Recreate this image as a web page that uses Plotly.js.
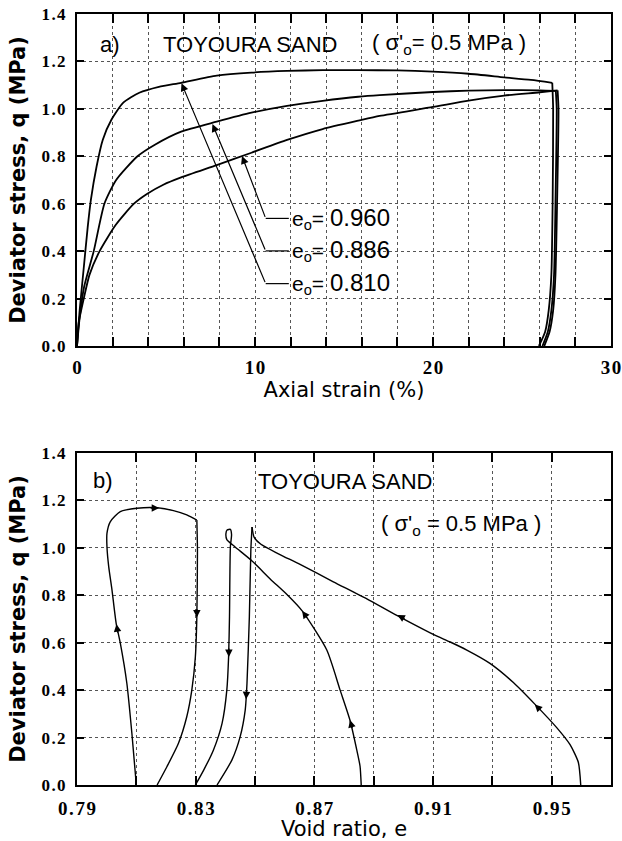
<!DOCTYPE html>
<html>
<head>
<meta charset="utf-8">
<script src="https://cdn.plot.ly/plotly-3.0.1.min.js"></script>
<style>html,body{margin:0;padding:0;background:#fff;}#chart{width:622px;height:841px;}</style>
</head>
<body>
<div id="chart"></div>
<script>
// ---------- (a) deviator stress vs axial strain ----------
const load810Strain   = [0, 0.15, 0.38, 0.6, 0.78, 1.1, 1.45, 1.94, 2.6, 3.5, 4.6, 5.85, 7.85, 9.8, 11.8, 13.8, 15.8, 18, 20, 22, 24, 25.5, 26.7];
const load810Q        = [0, 0.15, 0.33, 0.5, 0.616, 0.757, 0.87, 0.955, 1.026, 1.068, 1.093, 1.11, 1.14, 1.153, 1.16, 1.163, 1.163, 1.162, 1.157, 1.148, 1.133, 1.122, 1.11];
const unload810Strain = [26.7, 26.75, 26.72, 26.65, 26.5, 26.3, 25.95];
const unload810Q      = [1.11, 1.0, 0.6, 0.3, 0.15, 0.06, 0];

const load886Strain   = [0, 0.15, 0.4, 0.94, 1.54, 2.2, 3.4, 4.4, 5.85, 7.85, 9.8, 11.8, 13.8, 15.8, 17, 20, 22, 24, 26, 26.9];
const load886Q        = [0, 0.12, 0.25, 0.4, 0.6, 0.7, 0.8, 0.85, 0.904, 0.946, 0.984, 1.013, 1.034, 1.051, 1.058, 1.071, 1.077, 1.079, 1.078, 1.076];
const unload886Strain = [26.9, 26.95, 26.88, 26.8, 26.65, 26.45, 26.15];
const unload886Q      = [1.076, 1.0, 0.6, 0.3, 0.15, 0.06, 0];

const load960Strain   = [0, 0.1, 0.38, 0.7, 1.27, 2.17, 3.2, 3.95, 4.85, 5.85, 7.85, 9.8, 11.8, 13.8, 15.8, 17, 20, 22, 24, 26, 27.0];
const load960Q        = [0, 0.1, 0.2, 0.3, 0.4, 0.51, 0.6, 0.642, 0.68, 0.711, 0.763, 0.815, 0.869, 0.915, 0.95, 0.97, 1.008, 1.035, 1.056, 1.07, 1.078];
const unload960Strain = [27.0, 27.05, 26.97, 26.88, 26.75, 26.55, 26.25];
const unload960Q      = [1.078, 1.0, 0.6, 0.3, 0.15, 0.06, 0];

// ---------- (b) deviator stress vs void ratio ----------
const load810Void   = [0.810, 0.8085, 0.8068, 0.8046, 0.8032, 0.8018, 0.8007, 0.8001, 0.8001, 0.8012, 0.8046, 0.8102, 0.8170, 0.8225, 0.8270, 0.8304];
const load810Qb     = [0, 0.218, 0.429, 0.598, 0.682, 0.822, 0.920, 1.005, 1.061, 1.110, 1.153, 1.167, 1.169, 1.157, 1.139, 1.117];
const unload810Void = [0.8304, 0.8306, 0.8304, 0.8299, 0.8287, 0.8270, 0.8242, 0.8203, 0.8170];
const unload810Qb   = [1.117, 0.991, 0.71, 0.541, 0.40, 0.288, 0.176, 0.077, 0];

const path886Void = [0.8858, 0.8854, 0.8843, 0.882, 0.8787, 0.8742, 0.8659, 0.8606, 0.8552, 0.849, 0.8432, 0.8405, 0.8402, 0.8406, 0.8417, 0.8421, 0.8417, 0.8414, 0.8411, 0.8405, 0.8389, 0.836, 0.8327, 0.8299];
const path886Qb   = [0, 0.08, 0.148, 0.274, 0.40, 0.569, 0.734, 0.805, 0.868, 0.945, 1.005, 1.035, 1.06, 1.075, 1.078, 1.055, 1.005, 0.71, 0.541, 0.40, 0.26, 0.148, 0.063, 0];

const load960Void   = [0.9598, 0.959, 0.9562, 0.9517, 0.9444, 0.9371, 0.9292, 0.9214, 0.9158, 0.9101, 0.8978, 0.8877, 0.8764, 0.8652, 0.8579, 0.852, 0.8497, 0.849];
const load960Qb     = [0, 0.095, 0.17, 0.242, 0.34, 0.432, 0.513, 0.569, 0.603, 0.635, 0.715, 0.785, 0.857, 0.93, 0.975, 1.015, 1.045, 1.088];
const unload960Void = [0.849, 0.8486, 0.8481, 0.8473, 0.8467, 0.845, 0.8422, 0.8372];
const unload960Qb   = [1.088, 0.991, 0.71, 0.429, 0.316, 0.204, 0.105, 0];

// ---------- ticks ----------
const hs = '\u200A';
const xTicksA = [0,2,4,6,8,10,12,14,16,18,20,22,24,26,28,30];
const xTextA  = ['0','','','','','10','','','','','20','','','','','30'];
const xTicksB = [0.79,0.81,0.83,0.85,0.87,0.89,0.91,0.93,0.95,0.97];
const xTextB  = ['0.79','','0.83','','0.87','','0.91','','0.95',''];
const yTicks  = [0,0.2,0.4,0.6,0.8,1.0,1.2,1.4];
const yText   = ['0.0','0.2','0.4','0.6','0.8','1.0','1.2','1.4'];
const spaced = arr => arr.map(s => s.split('').join(hs));

// ---------- labels (panel a leaders) ----------
const leaderLabels = ['0.960','0.886','0.810'];
const leaderHeadX  = [9.27, 7.61, 5.87];
const leaderHeadY  = [0.801, 0.936, 1.108];
const leaderLevelY = [0.538, 0.401, 0.263];
const leaderElbowX = 10.6;
const leaderTextX  = 11.9;

// ---------- direction arrows (panel b) ----------
const arrowE  = [0.8033, 0.8177, 0.8304, 0.8412, 0.847, 0.882, 0.8659, 0.9443, 0.898];
const arrowQ  = [0.678, 1.168, 0.706, 0.54, 0.362, 0.274, 0.734, 0.34, 0.717];
const arrowDx = [1.5, -10, 0, 0, 0.5, 2.7, 5.8, 7, 8.8];
const arrowDy = [10, 0, -10, -10, -10, 9.6, 8.1, 7, 4.8];

const lineA = {color:'#000', width:1.8, shape:'spline', smoothing:0.6};
const lineB = {color:'#000', width:1.4, shape:'spline', smoothing:0.6};
function tr(x, y, ln, xa, ya) { return {x:x, y:y, mode:'lines', line:ln, xaxis:xa, yaxis:ya, hoverinfo:'skip'}; }
const traces = [
  tr(load810Strain, load810Q, lineA, 'x', 'y'),
  tr(unload810Strain, unload810Q, lineA, 'x', 'y'),
  tr(load886Strain, load886Q, lineA, 'x', 'y'),
  tr(unload886Strain, unload886Q, lineA, 'x', 'y'),
  tr(load960Strain, load960Q, lineA, 'x', 'y'),
  tr(unload960Strain, unload960Q, lineA, 'x', 'y'),
  tr(load810Void, load810Qb, lineB, 'x2', 'y2'),
  tr(unload810Void, unload810Qb, lineB, 'x2', 'y2'),
  tr(path886Void, path886Qb, lineB, 'x2', 'y2'),
  tr(load960Void, load960Qb, lineB, 'x2', 'y2'),
  tr(unload960Void, unload960Qb, lineB, 'x2', 'y2')
];

const tickFontX = {family:'Liberation Serif, Times New Roman, serif', size:19, weight:'bold', color:'#000'};
const tickFontY = {family:'Liberation Serif, Times New Roman, serif', size:17, weight:'bold', color:'#000'};
const axisCommon = {
  showline:true, linecolor:'#000', linewidth:2, mirror:'ticks',
  ticks:'inside', tickcolor:'#000', tickwidth:2,
  showgrid:true, gridcolor:'#555', gridwidth:1, griddash:'dot',
  zeroline:false, tickmode:'array', fixedrange:true
};
const yTitleFont = {family:'DejaVu Sans', size:21, weight:'bold', color:'#000'};
const xTitleFont = {family:'DejaVu Sans', size:21, color:'#000'};

const sansFont = {family:'Liberation Sans, Arial', size:22, color:'#000'};
const annotations = [
  {xref:'x', yref:'y', x:1.85, y:1.27, text:'a)', showarrow:false, font:sansFont},
  {xref:'x', yref:'y', x:9.7, y:1.27, text:'TOYOURA SAND', showarrow:false, font:sansFont},
  {xref:'x', yref:'y', x:20.9, y:1.275, text:"( σ'<sub>o</sub>= 0.5 MPa )", showarrow:false, font:sansFont},
  {xref:'x2', yref:'y2', x:0.7989, y:1.286, text:'b)', showarrow:false, font:sansFont},
  {xref:'x2', yref:'y2', x:0.8804, y:1.278, text:'TOYOURA SAND', showarrow:false, font:sansFont},
  {xref:'x2', yref:'y2', x:0.9195, y:1.096, text:"( σ'<sub>o</sub> = 0.5 MPa )", showarrow:false, font:sansFont}
];
const shapes = [];
for (let i = 0; i < leaderLabels.length; i++) {
  annotations.push({xref:'x', yref:'y', axref:'x', ayref:'y',
    x: leaderHeadX[i], y: leaderHeadY[i], ax: leaderElbowX, ay: leaderLevelY[i],
    text:'', showarrow:true, arrowhead:2, arrowsize:1.3, arrowwidth:1.2, arrowcolor:'#000', standoff:0});
  shapes.push({type:'line', xref:'x', yref:'y', x0: leaderElbowX, x1: leaderTextX, y0: leaderLevelY[i], y1: leaderLevelY[i],
    line:{color:'#000', width:1.2}});
  annotations.push({xref:'x', yref:'y', x: leaderTextX + 0.05, y: leaderLevelY[i], xanchor:'left', yanchor:'middle',
    text:'e<sub>o</sub>= <span style="font-size:24px">' + leaderLabels[i] + '</span>', showarrow:false,
    font:{family:'Liberation Sans, Arial', size:21, color:'#000'}});
}
for (let i = 0; i < arrowE.length; i++) {
  annotations.push({xref:'x2', yref:'y2', x: arrowE[i], y: arrowQ[i], ax: arrowDx[i], ay: arrowDy[i],
    text:'', showarrow:true, arrowhead:2, arrowsize:1.15, arrowwidth:1.3, arrowcolor:'#000', standoff:0});
}

const layout = {
  width:622, height:841,
  margin:{l:77, r:11, t:14, b:56},
  paper_bgcolor:'#fff', plot_bgcolor:'#fff',
  showlegend:false,
  xaxis: Object.assign({}, axisCommon, {domain:[0,1], anchor:'y', range:[0,30], tickvals:xTicksA, ticktext:spaced(xTextA),
    ticklen:9, tickfont:tickFontX, ticklabelstandoff:3,
    title:{text:'Axial strain (%)', font:xTitleFont, standoff:4}}),
  yaxis: Object.assign({}, axisCommon, {domain:[0.5694,1], anchor:'x', range:[0,1.4], tickvals:yTicks, ticktext:spaced(yText),
    ticklen:7, tickfont:tickFontY, ticklabelstandoff:6,
    title:{text:'Deviator stress, q (MPa)', font:yTitleFont, standoff:10}}),
  xaxis2: Object.assign({}, axisCommon, {domain:[0,1], anchor:'y2', range:[0.79,0.97], tickvals:xTicksB, ticktext:spaced(xTextB),
    ticklen:9, tickfont:tickFontX, ticklabelstandoff:5,
    title:{text:'Void ratio, e', font:xTitleFont, standoff:2}}),
  yaxis2: Object.assign({}, axisCommon, {domain:[0,0.4306], anchor:'x2', range:[0,1.4], tickvals:yTicks, ticktext:spaced(yText),
    ticklen:7, tickfont:tickFontY, ticklabelstandoff:6,
    title:{text:'Deviator stress, q (MPa)', font:yTitleFont, standoff:10}}),
  annotations: annotations,
  shapes: shapes
};

Plotly.newPlot('chart', traces, layout, {staticPlot:true, displayModeBar:false});
</script>
</body>
</html>
